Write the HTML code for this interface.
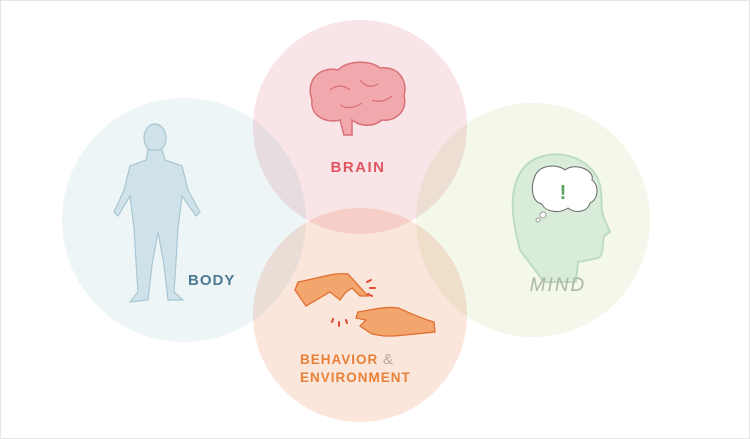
<!DOCTYPE html>
<html><head><style>
html,body{margin:0;padding:0;background:#fff}
svg{display:block}
</style></head><body>
<svg width="750" height="439" viewBox="0 0 750 439" xmlns="http://www.w3.org/2000/svg">
<rect x="0.5" y="0.5" width="749" height="438" fill="#fff" stroke="#e6e6e6"/>
<g style="isolation:isolate">
<circle cx="184" cy="220" r="122" fill="#edf5f7" style="mix-blend-mode:multiply"/>
<circle cx="533" cy="220" r="117" fill="#f3f8ea" style="mix-blend-mode:multiply"/>
<circle cx="360" cy="127" r="107" fill="#f9e5e7" style="mix-blend-mode:multiply"/>
<circle cx="360" cy="315" r="107" fill="#fbe6dc" style="mix-blend-mode:multiply"/>
</g>
<!-- body figure -->
<g fill="#cfe2ea" stroke="#a9c6d3" stroke-width="1.2">
<ellipse cx="155" cy="138" rx="11" ry="14"/>
<path d="M148 150 L162 150 L165 160 L182 166 L188 190 L200 212 L196 216 L182 196 L178 228 L176 262 L174 292 L183 300 L168 300 L164 265 L158 232 L152 265 L148 300 L130 302 L138 292 L136 262 L134 228 L130 196 L118 216 L114 212 L124 190 L130 166 L146 160 Z"/>
</g>
<text x="188" y="285" font-family="Liberation Sans, sans-serif" font-weight="bold" font-size="15" fill="#4d7a93" letter-spacing="1">BODY</text>
<!-- brain -->
<g fill="#f2a9ad" stroke="#d96f77" stroke-width="1.5">
<path d="M312 100 C305 80 320 66 338 70 C348 60 370 60 380 68 C398 66 408 80 404 96 C408 110 396 122 382 120 C372 128 360 126 352 120 L352 135 L344 135 L340 120 C325 124 310 115 312 100 Z"/>
</g>
<path d="M330 90 q10 -8 20 0 M360 80 q8 10 18 4 M340 105 q10 6 22 -2 M372 100 q10 4 20 -4" fill="none" stroke="#d96f77" stroke-width="1.3"/>
<text x="358" y="172" text-anchor="middle" font-family="Liberation Sans, sans-serif" font-weight="bold" font-size="15" fill="#e05560" letter-spacing="1.5">BRAIN</text>
<!-- head -->
<path d="M520 250 C512 220 508 190 522 170 C540 145 590 150 600 185 C603 200 600 210 604 218 L610 232 L604 236 C602 245 604 255 598 258 L578 262 L576 282 L544 282 Z" fill="#d8ecd9" stroke="#bedcc3" stroke-width="2"/>
<path d="M535 176 C540 164 558 164 565 170 C575 162 595 170 592 180 C600 186 598 200 590 203 C588 212 575 214 568 208 C560 214 545 212 542 204 C532 202 530 188 535 176 Z" fill="#fff" stroke="#666" stroke-width="1"/>
<circle cx="543" cy="215" r="3" fill="#fff" stroke="#888" stroke-width="0.8"/>
<circle cx="538" cy="220" r="2" fill="#fff" stroke="#888" stroke-width="0.8"/>
<text x="563" y="199" text-anchor="middle" font-family="Liberation Sans, sans-serif" font-weight="bold" font-size="20" fill="#5aa25e">!</text>
<text x="558" y="291" text-anchor="middle" font-family="Liberation Sans, sans-serif" font-style="italic" font-size="19" fill="#a9b8a4" letter-spacing="2">MIND</text>
<!-- hands -->
<path d="M295 290 L298 282 C320 278 335 272 348 274 L368 296 L360 296 L352 288 L346 292 L340 300 L330 292 L306 306 Z" fill="#f2a66e" stroke="#e07030" stroke-width="1.3"/>
<path d="M435 332 L434 322 C420 318 408 312 398 308 C385 306 370 310 358 312 L356 318 L366 320 L360 326 L372 334 L384 336 L395 336 Z" fill="#f2a66e" stroke="#e07030" stroke-width="1.3"/>
<g stroke="#e04a30" stroke-width="2" stroke-linecap="round">
<path d="M367 282 l4 -2 M370 288 l5 0 M368 294 l4 2 M332 322 l1 -3 M339 326 l0 -4 M347 323 l-1 -3"/>
</g>
<text x="300" y="364" font-family="Liberation Sans, sans-serif" font-weight="bold" font-size="13.5" fill="#e98038" letter-spacing="1">BEHAVIOR <tspan fill="#b9a59a" font-weight="normal" font-size="15">&amp;</tspan></text>
<text x="300" y="382" font-family="Liberation Sans, sans-serif" font-weight="bold" font-size="13.5" fill="#e98038" letter-spacing="1">ENVIRONMENT</text>
</svg>
</body></html>
